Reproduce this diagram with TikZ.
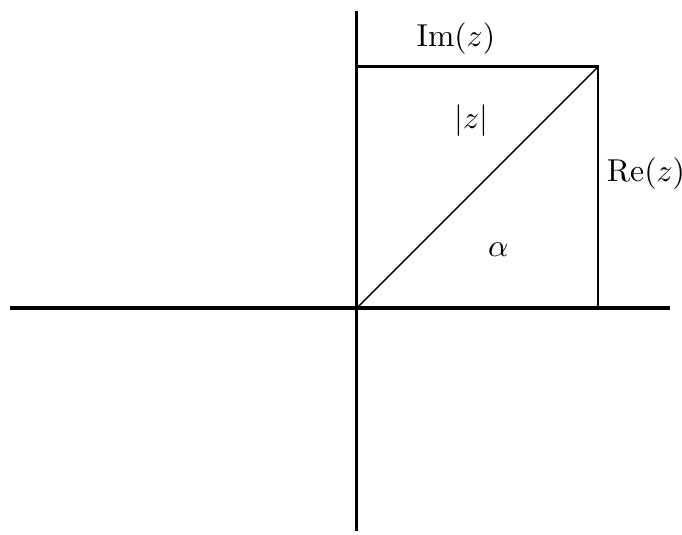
\documentclass[tikz,border=0pt]{standalone}
\usepackage{amsmath}
\begin{document}
\begin{tikzpicture}[
  axis/.style = {line width=1.05pt},
  side/.style = {line width=0.8pt},
  radius line/.style = {line width=0.4pt},
  lbl/.style = {inner sep=0pt}
]
\useasboundingbox (-3.96,-2.51) rectangle (3.61,3.42);

% Points
\coordinate (O) at (0,0);
\coordinate (Z) at (2.68,2.68);
\coordinate (W) at (-3.85,0);
\coordinate (E) at (3.48,0);
\coordinate (N) at (0,3.30);
\coordinate (S) at (0,-2.47);

% Axes
\draw[axis] (W) -- (E);
\draw[axis] (S) -- (N);

% Box and modulus
\draw[side] (O |- Z) -- (Z) -- (Z |- O);
\draw[radius line] (O) -- (Z);

% Labels
\node[lbl] (Im) at (1.10,2.99) {$\operatorname{Im}(z)$};
\node[lbl] (Re) at (3.21,1.49) {$\operatorname{Re}(z)$};
\node[lbl] (Mod) at (1.27,2.08) {$|z|$};
\node[lbl] (Ang) at (1.57,0.65) {$\alpha$};

\end{tikzpicture}
\end{document}
